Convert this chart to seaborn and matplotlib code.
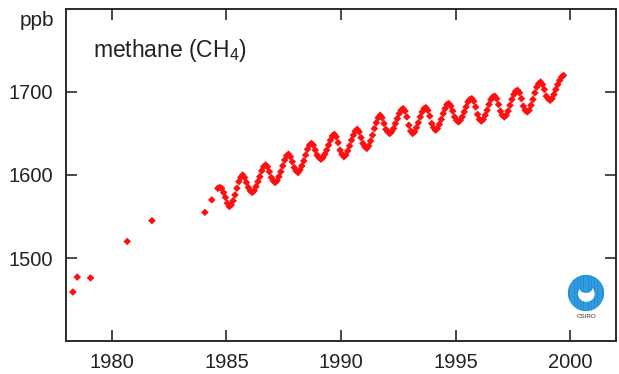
import numpy as np
import pandas as pd
import matplotlib
matplotlib.use("Agg")
import matplotlib.pyplot as plt
import seaborn as sns
from matplotlib.patches import Circle, Ellipse

# ---- data ----
early_year = [1978.30, 1978.49, 1979.07, 1980.67, 1981.75, 1984.06, 1984.36]
early_ppb = [1459, 1477, 1476, 1520, 1545, 1555, 1570]

# monthly values, first value = Aug 1984
monthly_start_year = 1984
monthly_start_month = 8
ppb_1984 = [1584, 1585, 1584, 1579, 1573]
ppb_1985 = [1566, 1562, 1564, 1569, 1576, 1584, 1592, 1597, 1600, 1597, 1591, 1585]
ppb_1986 = [1581, 1579, 1581, 1586, 1592, 1598, 1605, 1610, 1612, 1610, 1604, 1597]
ppb_1987 = [1593, 1591, 1593, 1598, 1604, 1611, 1618, 1623, 1625, 1622, 1616, 1609]
ppb_1988 = [1605, 1603, 1606, 1611, 1617, 1624, 1631, 1636, 1638, 1636, 1630, 1624]
ppb_1989 = [1621, 1619, 1621, 1625, 1630, 1636, 1642, 1647, 1649, 1646, 1639, 1630]
ppb_1990 = [1625, 1622, 1624, 1629, 1635, 1642, 1648, 1653, 1655, 1652, 1645, 1638]
ppb_1991 = [1634, 1632, 1635, 1641, 1648, 1656, 1663, 1669, 1672, 1669, 1662, 1655]
ppb_1992 = [1652, 1650, 1652, 1656, 1662, 1668, 1674, 1678, 1680, 1677, 1670, 1660]
ppb_1993 = [1653, 1650, 1652, 1657, 1663, 1670, 1676, 1680, 1681, 1678, 1671, 1662]
ppb_1994 = [1657, 1654, 1656, 1661, 1667, 1674, 1680, 1685, 1686, 1683, 1677, 1670]
ppb_1995 = [1666, 1664, 1666, 1670, 1676, 1682, 1688, 1691, 1692, 1689, 1682, 1673]
ppb_1996 = [1667, 1665, 1667, 1672, 1678, 1685, 1691, 1694, 1695, 1692, 1685, 1677]
ppb_1997 = [1672, 1670, 1672, 1677, 1684, 1691, 1697, 1701, 1702, 1699, 1692, 1683]
ppb_1998 = [1678, 1676, 1678, 1684, 1691, 1699, 1706, 1710, 1712, 1709, 1703, 1695]
ppb_1999 = [1692, 1690, 1692, 1697, 1703, 1709, 1714, 1718, 1720]

x_ticks = [1980, 1985, 1990, 1995, 2000]
y_ticks = [1500, 1600, 1700]
y_unit = "ppb"
title_text = "methane (CH$\\mathregular{_4}$)"

monthly_ppb = (ppb_1984 + ppb_1985 + ppb_1986 + ppb_1987 + ppb_1988 + ppb_1989
               + ppb_1990 + ppb_1991 + ppb_1992 + ppb_1993 + ppb_1994 + ppb_1995
               + ppb_1996 + ppb_1997 + ppb_1998 + ppb_1999)
monthly_year = []
y, m = monthly_start_year, monthly_start_month
for _ in monthly_ppb:
    monthly_year.append(y + (m - 0.5) / 12.0)
    m += 1
    if m > 12:
        m = 1
        y += 1

df = pd.DataFrame({
    "year": early_year + monthly_year,
    "ppb": early_ppb + monthly_ppb,
})

# ---- figure ----
sns.set_theme(style="ticks")
plt.rcParams["font.family"] = ["Liberation Sans", "DejaVu Sans"]
plt.rcParams["mathtext.fontset"] = "custom"
plt.rcParams["mathtext.rm"] = "Liberation Sans"

W, H = 619, 374
fig = plt.figure(figsize=(W / 100, H / 100), dpi=100)
fig.patch.set_facecolor("white")
ax = fig.add_axes([66 / W, 1 - 341 / H, (616 - 66) / W, (341 - 9) / H])
ax.set_facecolor("white")

sns.scatterplot(data=df, x="year", y="ppb", ax=ax, color="#ff1010",
                marker="D", s=15, linewidth=0, edgecolor="none", legend=False)

ax.set_xlim(1978, 2002)
ax.set_ylim(1400, 1800)
ax.set_xticks(x_ticks)
ax.set_yticks(y_ticks)
ax.set_xlabel("")
ax.set_ylabel("")

txt_color = "#222222"
for side in ["top", "bottom", "left", "right"]:
    ax.spines[side].set_visible(True)
    ax.spines[side].set_linewidth(1.4)
    ax.spines[side].set_color("#2a2a2a")

ax.tick_params(axis="both", which="major", direction="in", length=8, width=1.2,
               color="#2a2a2a", labelsize=14.5, labelcolor=txt_color,
               top=True, right=True, bottom=True, left=True,
               labeltop=False, labelright=False)
ax.tick_params(axis="x", pad=9)
ax.tick_params(axis="y", pad=9)

# unit label at top of y axis
fig.text(54 / W, 1 - 20 / H, y_unit, ha="right", va="center",
         fontsize=15, color=txt_color)

# title inside axes
fig.text(93 / W, 1 - 51 / H, title_text, ha="left", va="center",
         fontsize=16.5, color=txt_color)

# CSIRO logo (simple)
logo_ax = fig.add_axes([568 / W, 1 - 311 / H, 36 / W, 36 / H])
logo_ax.set_xlim(-1, 1)
logo_ax.set_ylim(-1, 1)
logo_ax.set_aspect("equal")
logo_ax.axis("off")
logo_ax.add_patch(Circle((0, 0), 0.97, color="#1b8fd8"))
logo_ax.add_patch(Ellipse((0.02, -0.05), 0.85, 0.8, color="white"))
logo_ax.add_patch(Ellipse((0.0, 0.22), 0.6, 0.35, color="#1b8fd8"))
for xv in np.linspace(-0.85, 0.85, 12):
    logo_ax.plot([xv, xv], [-0.95, 0.95], color="white", lw=0.3, alpha=0.5)
fig.text(586 / W, 1 - 316 / H, "CSIRO", ha="center", va="center",
         fontsize=4.5, color="#333333")

fig.savefig("out.png", dpi=100, facecolor="white")
